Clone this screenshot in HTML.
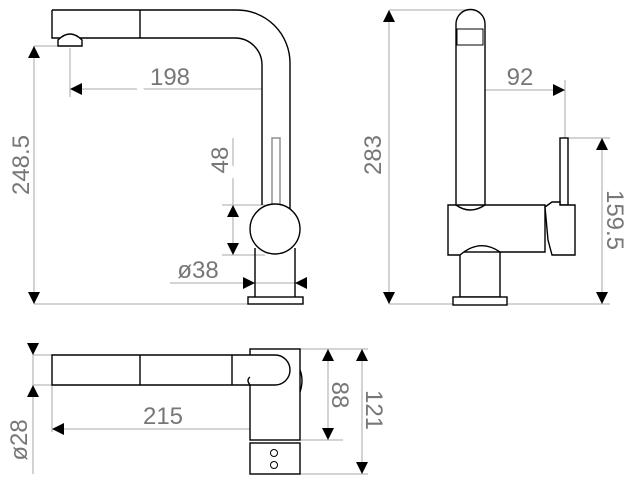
<!DOCTYPE html>
<html><head><meta charset="utf-8"><style>
html,body{margin:0;padding:0;background:#fff;}
svg{display:block}
text{font-family:"Liberation Sans",sans-serif;font-size:24px;fill:#777;}
</style></head><body>
<svg width="635" height="485" viewBox="0 0 635 485" xmlns="http://www.w3.org/2000/svg">
<defs>
<marker id="a" viewBox="0 0 10 10" refX="10" refY="5" markerWidth="12" markerHeight="12" markerUnits="userSpaceOnUse" orient="auto-start-reverse"><path d="M0,0L10,5L0,10z" fill="#000"/></marker>
</defs>
<g stroke="#bbb" stroke-width="1.3" fill="none">
<line x1="34" y1="46" x2="57" y2="46"/><line x1="34" y1="304" x2="248" y2="304"/>
<line x1="34" y1="46" x2="34" y2="304" marker-start="url(#a)" marker-end="url(#a)"/>
<line x1="70" y1="48" x2="70" y2="97"/>
<line x1="70" y1="89" x2="275" y2="89" marker-start="url(#a)" marker-end="url(#a)"/>
<line x1="233" y1="138" x2="233" y2="255"/>
<line x1="222" y1="205" x2="265" y2="205"/><line x1="222" y1="255" x2="265" y2="255"/>
<line x1="170" y1="283" x2="307" y2="283"/>
<line x1="389" y1="10" x2="470" y2="10"/><line x1="389" y1="304" x2="453" y2="304"/>
<line x1="389" y1="10" x2="389" y2="304" marker-start="url(#a)" marker-end="url(#a)"/>
<line x1="565" y1="80" x2="565" y2="138"/>
<line x1="470" y1="90" x2="565" y2="90" marker-start="url(#a)" marker-end="url(#a)"/>
<line x1="568" y1="138" x2="610" y2="138"/><line x1="507" y1="304" x2="610" y2="304"/>
<line x1="602" y1="138" x2="602" y2="304" marker-start="url(#a)" marker-end="url(#a)"/>
<line x1="33" y1="355" x2="52" y2="355"/><line x1="33" y1="385" x2="52" y2="385"/>
<line x1="33" y1="343" x2="33" y2="474"/>
<line x1="52" y1="385" x2="52" y2="432"/>
<line x1="52" y1="429" x2="277" y2="429" marker-start="url(#a)" marker-end="url(#a)"/>
<line x1="300" y1="349" x2="368" y2="349"/><line x1="300" y1="440" x2="343" y2="440"/><line x1="300" y1="474" x2="368" y2="474"/>
<line x1="328" y1="349" x2="328" y2="440" marker-start="url(#a)" marker-end="url(#a)"/>
<line x1="362" y1="349" x2="362" y2="474" marker-start="url(#a)" marker-end="url(#a)"/>
</g>
<g fill="#000">
<path d="M233,205l-6,12h12z"/><path d="M233,255l-6,-12h12z"/>
<path d="M255,283l-12,-6v12z"/><path d="M295,283l12,-6v12z"/>
<path d="M33,355l-6,-12h12z"/><path d="M33,385l-6,12h12z"/>
</g>
<g stroke="#000" stroke-width="1.4" fill="#fff">
<!-- drawing 1 -->
<path d="M52,10H237A53,53 0 0 1 290,63V215M262,205V65A27,27 0 0 0 235,38H52V10"/>
<line x1="140" y1="10" x2="140" y2="38"/>
<path d="M58,46V40Q70,28 82,40V46Z"/>
<rect x="272" y="138" width="8" height="67" stroke="#888"/>
<path d="M255,248V297M295,248V297"/>
<circle cx="275" cy="229" r="25"/>
<rect x="248" y="297" width="55" height="7"/>
<!-- drawing 2 -->
<path d="M456,210V24A14.5,14.5 0 0 1 485,24V210"/>
<rect x="457" y="29" width="26" height="16" stroke-width="1"/>
<rect x="560" y="138" width="8" height="67"/>
<rect x="460" y="252" width="40" height="45"/>
<path d="M448,205H545V252H500Q480,238 460,255H448Z"/>
<path d="M456,205Q470,215 485,205" fill="none"/>
<path d="M545,207L552,202H560V205H575V255H552L548,240Z"/>
<rect x="453" y="297" width="54" height="8"/>
<!-- drawing 3 -->
<rect x="250" y="349" width="50" height="91"/>
<path d="M300,370Q304,380 300,392" fill="none"/>
<path d="M52,355H275A15,15 0 0 1 275,385H52Z"/>
<path d="M250,385Q246,380 250,377" fill="none"/>
<line x1="140" y1="355" x2="140" y2="385"/>
<line x1="232" y1="355" x2="232" y2="385"/>
<rect x="250" y="443" width="50" height="31"/>
<circle cx="274" cy="453" r="3.5" stroke-width="1"/>
<circle cx="274" cy="465" r="3.5" stroke-width="1"/>
</g>
<text x="170" y="85" text-anchor="middle">198</text>
<text x="198" y="278" text-anchor="middle">ø38</text>
<text transform="translate(29,165) rotate(-90)" text-anchor="middle">248.5</text>
<text transform="translate(228,160) rotate(-90)" text-anchor="middle">48</text>
<text x="520" y="85" text-anchor="middle">92</text>
<text transform="translate(381,155) rotate(-90)" text-anchor="middle">283</text>
<text transform="translate(607,220) rotate(90)" text-anchor="middle">159.5</text>
<text x="163" y="424" text-anchor="middle">215</text>
<text transform="translate(27,440) rotate(-90)" text-anchor="middle">ø28</text>
<text transform="translate(332,395) rotate(90)" text-anchor="middle">88</text>
<text transform="translate(366,410) rotate(90)" text-anchor="middle">121</text>
</svg>
</body></html>
